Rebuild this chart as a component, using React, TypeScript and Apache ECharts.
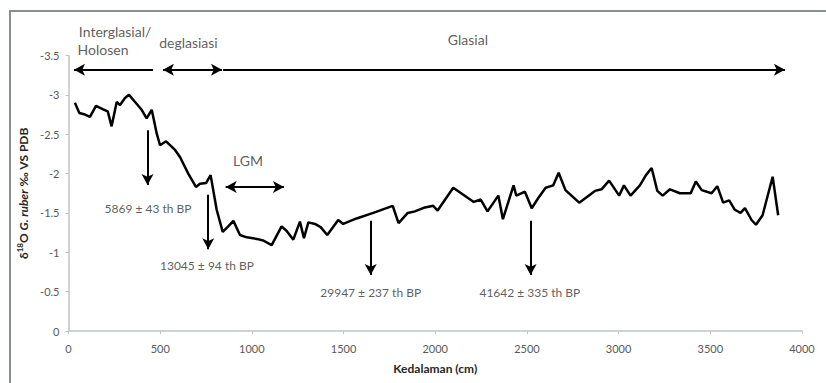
import React, { useEffect, useRef } from "react";
import * as echarts from "echarts";

// Core depth (cm) and δ18O G. ruber (‰ VS PDB)
const depthCm = [
  35, 59, 90, 117, 150, 186, 214, 235, 263, 281, 308, 330, 363, 399, 426, 454, 481, 499, 532, 581,
  608, 653, 695, 717, 750, 775, 808, 841, 871, 899, 935, 972, 1026, 1062, 1108, 1162, 1190, 1226, 1262, 1284,
  1308, 1344, 1375, 1411, 1471, 1498, 1571, 1662, 1768, 1800, 1850, 1889, 1944, 1989, 2013, 2098, 2210, 2248, 2285, 2344,
  2369, 2427, 2442, 2489, 2526, 2562, 2602, 2643, 2673, 2710, 2785, 2871, 2907, 2948, 3003, 3029, 3065, 3116, 3149, 3180,
  3211, 3240, 3280, 3334, 3393, 3421, 3453, 3507, 3538, 3570, 3603, 3634, 3665, 3689, 3725, 3749, 3785, 3840, 3870,
];
const d18O = [
  -2.9, -2.77, -2.75, -2.72, -2.86, -2.82, -2.79, -2.6, -2.91, -2.87, -2.96, -3.0, -2.91, -2.81, -2.7, -2.81, -2.51, -2.36, -2.41, -2.3,
  -2.21, -2.0, -1.83, -1.87, -1.88, -1.98, -1.54, -1.26, -1.33, -1.4, -1.22, -1.19, -1.17, -1.15, -1.09, -1.33, -1.27, -1.16, -1.39, -1.18,
  -1.38, -1.36, -1.32, -1.22, -1.41, -1.36, -1.43, -1.5, -1.59, -1.37, -1.5, -1.52, -1.57, -1.59, -1.53, -1.82, -1.64, -1.67, -1.52, -1.72,
  -1.42, -1.85, -1.72, -1.77, -1.56, -1.69, -1.82, -1.85, -2.01, -1.79, -1.63, -1.78, -1.8, -1.91, -1.72, -1.85, -1.72, -1.85, -1.98, -2.07,
  -1.78, -1.72, -1.8, -1.75, -1.75, -1.9, -1.79, -1.75, -1.84, -1.63, -1.66, -1.54, -1.5, -1.56, -1.41, -1.35, -1.47, -1.96, -1.47,
];

// Dated horizons (arrow down + age label)
const ageLabels = ["5869 ± 43 th BP", "13045 ± 94 th BP", "29947 ± 237 th BP", "41642 ± 335 th BP"];
const ageArrowDepth = [431, 762, 1648, 2520];
const ageArrowTop = [-2.55, -1.73, -1.4, -1.4];
const ageArrowBottom = [-1.855, -1.04, -0.71, -0.71];
const ageLabelDepth = [434, 755, 1648, 2516];
const ageLabelValue = [-1.56, -0.83, -0.49, -0.49];

// Period labels
const periodLabels = ["Interglasial/", "Holosen", "deglasiasi", "Glasial", "LGM"];
const periodLabelDepth = [254, 188, 654, 2178, 979];
const periodLabelValue = [-3.81, -3.57, -3.67, -3.7, -2.16];

// Period span arrows: start, end (head at end), level, double-headed
const spanStart = [461, 515, 843, 857];
const spanEnd = [30, 837, 3907, 1175];
const spanLevel = [-3.32, -3.32, -3.32, -1.83];
const spanDouble = [false, true, false, true];

const FONT = "Lato, 'Open Sans', sans-serif";

export default function App() {
  const ref = useRef<HTMLDivElement>(null);
  useEffect(() => {
    if (!ref.current) return;
    const chart = echarts.init(ref.current, undefined, { renderer: "svg" });

    const lineData = depthCm.map((d, i) => [d, d18O[i]]);

    const arrowLines: any[] = [];
    ageArrowDepth.forEach((d, i) => {
      arrowLines.push([
        { coord: [d, ageArrowTop[i]], symbol: "none" },
        { coord: [d, ageArrowBottom[i]], symbol: "arrow" },
      ]);
    });
    spanStart.forEach((s, i) => {
      arrowLines.push([
        { coord: [s, spanLevel[i]], symbol: spanDouble[i] ? "arrow" : "none" },
        { coord: [spanEnd[i], spanLevel[i]], symbol: "arrow" },
      ]);
    });

    const textData: any[] = [];
    ageLabels.forEach((t, i) => {
      textData.push({ name: t, value: [ageLabelDepth[i], ageLabelValue[i]], label: { fontSize: 12 } });
    });
    periodLabels.forEach((t, i) => {
      textData.push({ name: t, value: [periodLabelDepth[i], periodLabelValue[i]], label: { fontSize: 14 } });
    });

    chart.setOption({
      animation: false,
      backgroundColor: "#ffffff",
      textStyle: { fontFamily: FONT },
      grid: { left: 68.5, right: 24, top: 55.5, bottom: 52, outerBoundsMode: "none" },
      xAxis: {
        type: "value",
        min: 0,
        max: 4000,
        interval: 500,
        name: "Kedalaman (cm)",
        nameLocation: "middle",
        nameGap: 31,
        nameTextStyle: { fontFamily: FONT, fontWeight: "bold", fontSize: 12, color: "#262626" },
        axisLine: { show: true, lineStyle: { color: "#bfc4c4", width: 1.5 } },
        axisTick: { show: true, inside: false, length: 3, lineStyle: { color: "#bfc4c4" } },
        axisLabel: { fontFamily: FONT, fontSize: 11, color: "#595959", margin: 12, formatter: (v: number) => String(v) },
        splitLine: { show: false },
      },
      yAxis: {
        type: "value",
        min: -3.5,
        max: 0,
        interval: 0.5,
        inverse: true,
        name: "{n|δ}{s|18}{n|O }{i|G. ruber}{n| ‰ VS PDB}",
        nameLocation: "middle",
        nameGap: 30,
        nameRotate: 90,
        nameTextStyle: {
          rich: {
            n: { fontFamily: FONT, fontWeight: "bold", fontSize: 12, color: "#262626" },
            s: { fontFamily: FONT, fontWeight: "bold", fontSize: 8, color: "#262626", padding: [0, 0, 6, 0] },
            i: { fontFamily: FONT, fontWeight: "bold", fontStyle: "italic", fontSize: 12, color: "#262626" },
          },
        },
        axisLine: { show: true, lineStyle: { color: "#bfc4c4", width: 1.5 } },
        axisTick: { show: true, inside: false, length: 3, lineStyle: { color: "#bfc4c4" } },
        axisLabel: { fontFamily: FONT, fontSize: 11, color: "#595959", margin: 9, formatter: (v: number) => String(v) },
        splitLine: { show: false },
      },
      graphic: [
        {
          type: "rect",
          shape: { x: 10, y: 11, width: 840, height: 420 },
          style: { fill: "none", stroke: "#8a8f8f", lineWidth: 2 },
          silent: true,
          z: 0,
        },
      ],
      series: [
        {
          type: "line",
          data: lineData,
          showSymbol: false,
          symbol: "none",
          lineStyle: { color: "#000000", width: 2.5 },
          silent: true,
          markLine: {
            silent: true,
            symbolSize: [9, 11],
            label: { show: false },
            lineStyle: { color: "#000000", width: 2, type: "solid" },
            emphasis: { disabled: true },
            data: arrowLines,
          },
        },
        {
          type: "scatter",
          data: textData,
          symbolSize: 0,
          clip: false,
          silent: true,
          itemStyle: { color: "#404040" },
          label: {
            show: true,
            position: "inside",
            formatter: (p: any) => p.name,
            fontFamily: FONT,
            color: "#333333",
            textBorderWidth: 0,
            textBorderColor: "transparent",
          },
        },
      ],
    });
    return () => chart.dispose();
  }, []);
  return <div ref={ref} style={{ position: "fixed", left: 0, top: 0, width: 826, height: 383 }} />;
}
